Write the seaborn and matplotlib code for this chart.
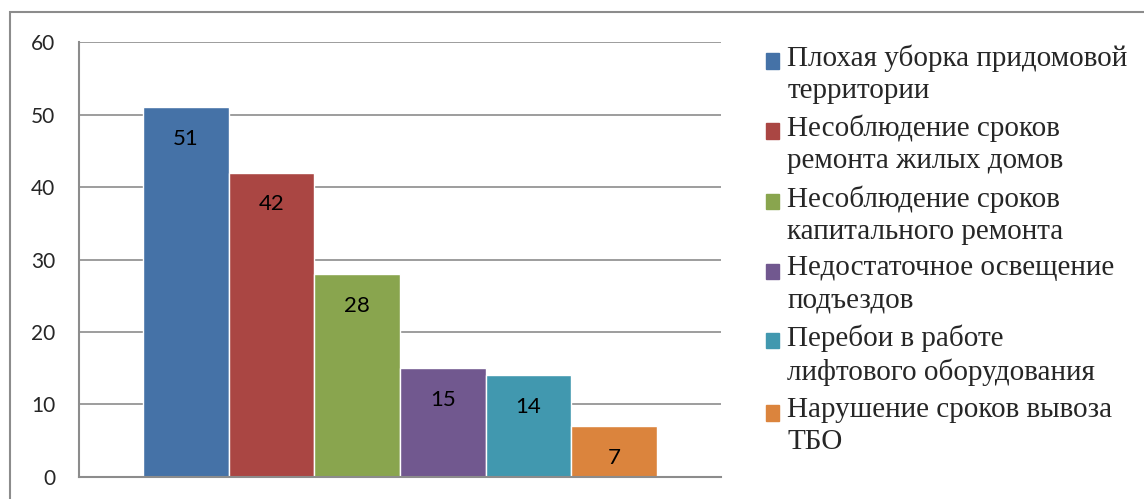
import numpy as np
import pandas as pd
import seaborn as sns
import matplotlib.pyplot as plt
from matplotlib.patches import Rectangle

# data
categories = ['Плохая уборка придомовой\nтерритории',
              'Несоблюдение сроков\nремонта жилых домов',
              'Несоблюдение сроков\nкапитального ремонта',
              'Недостаточное освещение\nподъездов',
              'Перебои в работе\nлифтового оборудования',
              'Нарушение сроков вывоза\nТБО']
values = [51, 42, 28, 15, 14, 7]
colors = ['#4572A7', '#AA4643', '#89A54E', '#71588F', '#4198AF', '#DB843D']
yticks = [0, 10, 20, 30, 40, 50, 60]

df = pd.DataFrame({'group': [''] * len(values), 'problem': categories, 'count': values})

sns.set_style('white')
plt.rcParams['font.family'] = ['Lato', 'DejaVu Sans']

fig = plt.figure(figsize=(11.44, 4.99), dpi=100)
ax = fig.add_axes([0.0691, 0.0441, 0.5612, 0.8717])

sns.barplot(data=df, x='group', y='count', hue='problem', palette=colors,
            width=0.8, saturation=1, legend=False, ax=ax)

for cont in ax.containers:
    ax.bar_label(cont, label_type='edge', padding=-30, fontsize=16, color='black')

ax.set_xlim(-0.5, 0.5)
ax.set_ylim(0, 60)
ax.set_yticks(yticks)
ax.set_xticks([])
ax.set_xlabel('')
ax.set_ylabel('')
ax.yaxis.grid(True, color='#8c8c8c', linewidth=1.2)
ax.set_axisbelow(True)
for s in ['top', 'right']:
    ax.spines[s].set_visible(False)
for s in ['left', 'bottom']:
    ax.spines[s].set_color('#8c8c8c')
    ax.spines[s].set_linewidth(1.5)
ax.tick_params(axis='y', length=0, pad=17, labelsize=15)

# legend
handles = [Rectangle((0, 0), 1, 1, color=c) for c in colors]
leg = fig.legend(handles, categories, loc='upper left', bbox_to_anchor=(0.659, 0.934),
                 frameon=False, prop={'family': 'Liberation Serif', 'size': 21},
                 handlelength=0.45, handleheight=0.45, handletextpad=0.3,
                 labelspacing=0.37, borderaxespad=0)
for t in leg.get_texts():
    t.set_linespacing(1.3)
# put the colour square next to the first line of each label
for col in leg._legend_handle_box.get_children():
    for item in col.get_children():
        item.align = 'top'
for p in leg.legend_handles:
    p.set_y(p.get_y() - 6)

# outer chart frame
fig.patches.append(Rectangle((10 / 1144, -0.05), 1.1, 0.05 + (499 - 12) / 499,
                             transform=fig.transFigure, fill=False,
                             edgecolor='#8c8c8c', linewidth=1.5))

fig.savefig('out.png', dpi=100)
